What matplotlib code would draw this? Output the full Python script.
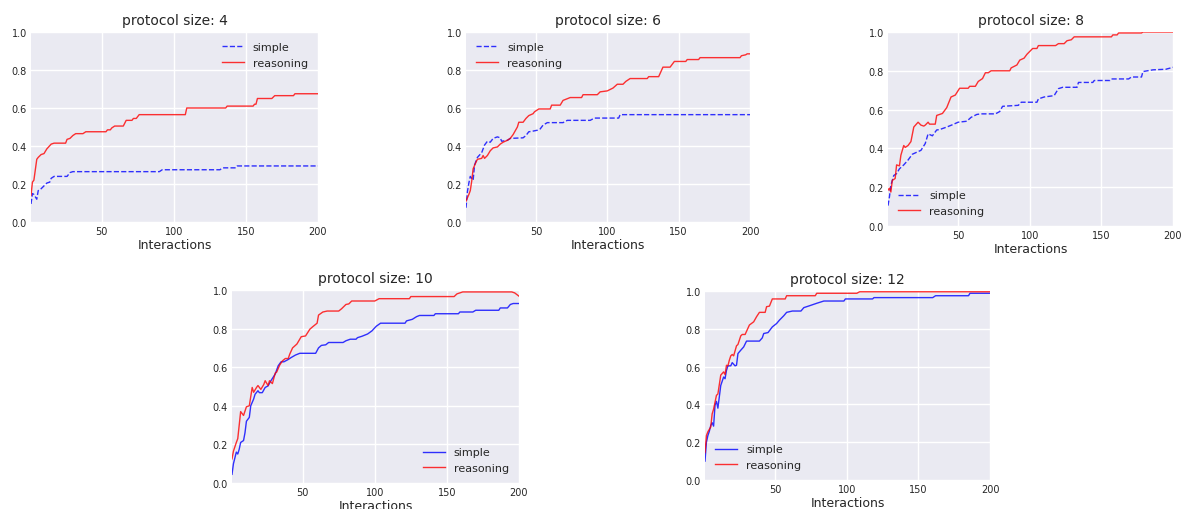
import matplotlib
matplotlib.use('Agg')
import matplotlib.pyplot as plt

size4_simple_x = [1, 2, 3, 5, 6, 8, 10, 12, 14, 15, 17, 26, 28, 30, 90, 92, 132, 134, 143, 144, 200]
size4_simple_y = [0.095, 0.15, 0.145, 0.12, 0.165, 0.175, 0.19, 0.205, 0.21, 0.23, 0.24, 0.24, 0.26, 0.265,
                  0.265, 0.275, 0.275, 0.285, 0.285, 0.295, 0.295]
size4_reason_x = [1, 2, 3, 5, 6, 8, 10, 12, 15, 17, 25, 26, 28, 30, 32, 37, 39, 53, 54, 56, 57, 59, 65, 67,
                  71, 72, 74, 76, 108, 109, 136, 137, 155, 156, 157, 158, 168, 170, 183, 184, 200]
size4_reason_y = [0.14, 0.21, 0.22, 0.33, 0.34, 0.355, 0.36, 0.385, 0.41, 0.415, 0.415, 0.435, 0.44, 0.455,
                  0.465, 0.465, 0.475, 0.475, 0.485, 0.485, 0.495, 0.505, 0.505, 0.535, 0.535, 0.545, 0.545,
                  0.565, 0.565, 0.6, 0.6, 0.61, 0.61, 0.62, 0.62, 0.65, 0.65, 0.665, 0.665, 0.675, 0.675]

size6_simple_x = [1, 2, 3, 4, 6, 7, 9, 12, 14, 16, 18, 20, 23, 25, 26, 30, 32, 41, 43, 45, 47, 51, 53, 55,
                  58, 69, 72, 88, 91, 108, 109, 200]
size6_simple_y = [0.075, 0.16, 0.205, 0.24, 0.22, 0.3, 0.34, 0.365, 0.405, 0.425, 0.42, 0.44, 0.448, 0.443,
                  0.425, 0.43, 0.44, 0.443, 0.455, 0.475, 0.477, 0.483, 0.49, 0.51, 0.523, 0.523, 0.535,
                  0.535, 0.547, 0.547, 0.565, 0.565]
size6_reason_x = [1, 3, 4, 5, 6, 8, 9, 12, 13, 14, 16, 18, 20, 23, 25, 27, 30, 32, 34, 37, 38, 41, 43, 45,
                  48, 49, 52, 60, 61, 67, 69, 74, 82, 83, 93, 95, 100, 104, 107, 111, 113, 116, 128, 129,
                  136, 139, 144, 147, 155, 156, 164, 165, 193, 194, 197, 198, 200]
size6_reason_y = [0.11, 0.145, 0.165, 0.215, 0.28, 0.315, 0.33, 0.335, 0.35, 0.335, 0.35, 0.375, 0.39, 0.395,
                  0.41, 0.42, 0.43, 0.44, 0.46, 0.5, 0.525, 0.525, 0.545, 0.56, 0.57, 0.58, 0.595, 0.595,
                  0.615, 0.615, 0.64, 0.655, 0.655, 0.67, 0.67, 0.685, 0.69, 0.705, 0.725, 0.725, 0.74,
                  0.755, 0.755, 0.765, 0.765, 0.815, 0.815, 0.845, 0.845, 0.855, 0.855, 0.865, 0.865,
                  0.875, 0.88, 0.885, 0.885]

size8_simple_x = [1, 2, 3, 5, 7, 9, 12, 15, 18, 21, 24, 27, 29, 32, 35, 37, 42, 46, 50, 56, 59, 63, 66, 76,
                  79, 81, 92, 94, 105, 106, 110, 117, 120, 123, 133, 134, 144, 145, 156, 157, 169, 171,
                  178, 179, 186, 195, 200]
size8_simple_y = [0.105, 0.15, 0.21, 0.26, 0.27, 0.295, 0.315, 0.34, 0.37, 0.38, 0.39, 0.425, 0.475, 0.465,
                  0.495, 0.497, 0.51, 0.522, 0.535, 0.54, 0.56, 0.575, 0.578, 0.578, 0.59, 0.617, 0.622,
                  0.638, 0.638, 0.655, 0.665, 0.672, 0.708, 0.715, 0.715, 0.74, 0.74, 0.75, 0.75, 0.758,
                  0.758, 0.768, 0.768, 0.796, 0.805, 0.808, 0.818]
size8_reason_x = [1, 2, 3, 4, 6, 7, 9, 10, 12, 13, 15, 17, 19, 22, 24, 26, 27, 29, 30, 34, 35, 39, 42, 45,
                  48, 51, 57, 58, 62, 64, 67, 69, 71, 73, 86, 87, 91, 93, 96, 98, 100, 102, 105, 106, 118,
                  120, 124, 126, 129, 131, 157, 158, 161, 162, 178, 179, 200]
size8_reason_y = [0.185, 0.195, 0.175, 0.235, 0.245, 0.315, 0.31, 0.365, 0.415, 0.405, 0.415, 0.435, 0.51,
                  0.535, 0.52, 0.515, 0.52, 0.535, 0.525, 0.525, 0.57, 0.58, 0.61, 0.665, 0.675, 0.71, 0.71,
                  0.72, 0.72, 0.745, 0.76, 0.79, 0.79, 0.8, 0.8, 0.815, 0.83, 0.855, 0.865, 0.885, 0.9,
                  0.915, 0.915, 0.93, 0.93, 0.94, 0.94, 0.955, 0.96, 0.975, 0.975, 0.985, 0.985, 0.995,
                  0.995, 1.0, 1.0]

size10_simple_x = [1, 2, 4, 5, 6, 7, 9, 10, 11, 13, 14, 16, 17, 19, 20, 22, 24, 26, 28, 31, 33, 35, 37, 40,
                   42, 45, 48, 59, 61, 63, 66, 68, 78, 80, 83, 87, 88, 91, 95, 98, 101, 104, 121, 122, 126,
                   129, 131, 141, 142, 158, 159, 168, 170, 186, 187, 192, 194, 196, 200]
size10_simple_y = [0.045, 0.1, 0.16, 0.15, 0.175, 0.21, 0.22, 0.26, 0.32, 0.34, 0.4, 0.435, 0.46, 0.478,
                   0.468, 0.468, 0.495, 0.503, 0.53, 0.565, 0.607, 0.628, 0.628, 0.64, 0.65, 0.663, 0.672,
                   0.672, 0.7, 0.713, 0.716, 0.728, 0.728, 0.737, 0.745, 0.745, 0.753, 0.76, 0.772, 0.788,
                   0.812, 0.828, 0.828, 0.84, 0.848, 0.862, 0.868, 0.868, 0.877, 0.877, 0.886, 0.886,
                   0.895, 0.895, 0.907, 0.907, 0.925, 0.93, 0.93]
size10_reason_x = [1, 2, 4, 5, 7, 9, 11, 13, 15, 16, 18, 19, 21, 23, 24, 26, 27, 29, 31, 32, 34, 36, 38, 40,
                   41, 43, 46, 49, 52, 55, 57, 60, 61, 64, 67, 75, 77, 80, 82, 84, 100, 103, 124, 125, 155,
                   157, 161, 195, 197, 200]
size10_reason_y = [0.125, 0.165, 0.21, 0.23, 0.37, 0.35, 0.395, 0.4, 0.495, 0.47, 0.495, 0.505, 0.485, 0.51,
                   0.53, 0.505, 0.53, 0.515, 0.57, 0.575, 0.61, 0.633, 0.645, 0.645, 0.667, 0.7, 0.72,
                   0.758, 0.762, 0.797, 0.81, 0.828, 0.87, 0.886, 0.891, 0.891, 0.903, 0.925, 0.928, 0.943,
                   0.943, 0.955, 0.955, 0.966, 0.966, 0.98, 0.99, 0.99, 0.985, 0.968]

size12_simple_x = [1, 2, 3, 4, 5, 6, 7, 8, 9, 10, 12, 14, 15, 16, 17, 19, 20, 22, 23, 24, 26, 28, 30, 39,
                   41, 42, 45, 48, 51, 53, 56, 58, 62, 68, 70, 74, 79, 84, 98, 99, 118, 119, 160, 162, 185,
                   186, 200]
size12_simple_y = [0.1, 0.2, 0.235, 0.257, 0.288, 0.303, 0.285, 0.395, 0.416, 0.38, 0.5, 0.545, 0.536, 0.58,
                   0.604, 0.604, 0.621, 0.604, 0.607, 0.669, 0.687, 0.704, 0.735, 0.735, 0.752, 0.775,
                   0.78, 0.81, 0.828, 0.846, 0.869, 0.887, 0.894, 0.894, 0.912, 0.922, 0.935, 0.947, 0.947,
                   0.958, 0.958, 0.965, 0.965, 0.975, 0.975, 0.988, 0.988]
size12_reason_x = [1, 2, 3, 5, 6, 7, 9, 10, 12, 14, 15, 16, 17, 18, 19, 20, 21, 23, 24, 26, 27, 29, 32, 35,
                   37, 39, 43, 44, 46, 48, 57, 58, 78, 79, 107, 109, 200]
size12_reason_y = [0.145, 0.235, 0.255, 0.28, 0.35, 0.375, 0.448, 0.455, 0.555, 0.572, 0.558, 0.607, 0.604,
                   0.634, 0.657, 0.664, 0.657, 0.71, 0.717, 0.763, 0.77, 0.77, 0.82, 0.837, 0.864, 0.887,
                   0.887, 0.917, 0.92, 0.958, 0.958, 0.975, 0.975, 0.988, 0.988, 0.996, 0.996]

sizes = [4, 6, 8, 10, 12]
simple_x = [size4_simple_x, size6_simple_x, size8_simple_x, size10_simple_x, size12_simple_x]
simple_y = [size4_simple_y, size6_simple_y, size8_simple_y, size10_simple_y, size12_simple_y]
reason_x = [size4_reason_x, size6_reason_x, size8_reason_x, size10_reason_x, size12_reason_x]
reason_y = [size4_reason_y, size6_reason_y, size8_reason_y, size10_reason_y, size12_reason_y]

# оформление в духе старого seaborn darkgrid
plt.rcParams['font.family'] = ['DejaVu Sans']
plt.rcParams['text.color'] = '.15'
plt.rcParams['axes.labelcolor'] = '.15'
plt.rcParams['xtick.color'] = '.15'
plt.rcParams['ytick.color'] = '.15'

W, H = 1183, 510
fig = plt.figure(figsize=(W / 100, H / 100), dpi=100)

# положение осей в пикселях: left, right, top, bottom
boxes = [(31, 318, 33, 223), (466, 750, 33, 223), (888, 1173, 33, 227),
         (232, 519, 291, 484), (705, 990, 292, 481)]
styles = ['--', '--', '--', '-', '-']
legend_loc = ['upper right', 'upper left', 'lower left', 'lower right', 'lower left']

for i in range(5):
    l, r, t, b = boxes[i]
    ax = fig.add_axes([l / W, (H - b) / H, (r - l) / W, (b - t) / H])
    ax.set_facecolor('#EAEAF2')
    for s in ax.spines.values():
        s.set_visible(False)
    ax.grid(True, color='white', linewidth=1)
    ax.set_axisbelow(True)

    ax.plot(simple_x[i], simple_y[i], styles[i], color='b', alpha=0.8, linewidth=1.0, label='simple')
    ax.plot(reason_x[i], reason_y[i], '-', color='r', alpha=0.8, linewidth=1.0, label='reasoning')

    ax.set_xlim(1, 200)
    ax.set_ylim(0, 1)
    ax.set_xticks([50, 100, 150, 200])
    ax.set_yticks([0.0, 0.2, 0.4, 0.6, 0.8, 1.0])
    ax.tick_params(length=0, labelsize=7, pad=3)
    ax.set_xlabel('Interactions', fontsize=9, labelpad=1)
    ax.set_title('protocol size: ' + str(sizes[i]), fontsize=10, pad=6)
    ax.legend(loc=legend_loc[i], frameon=False, fontsize=8)

fig.savefig('out.png', dpi=100)
